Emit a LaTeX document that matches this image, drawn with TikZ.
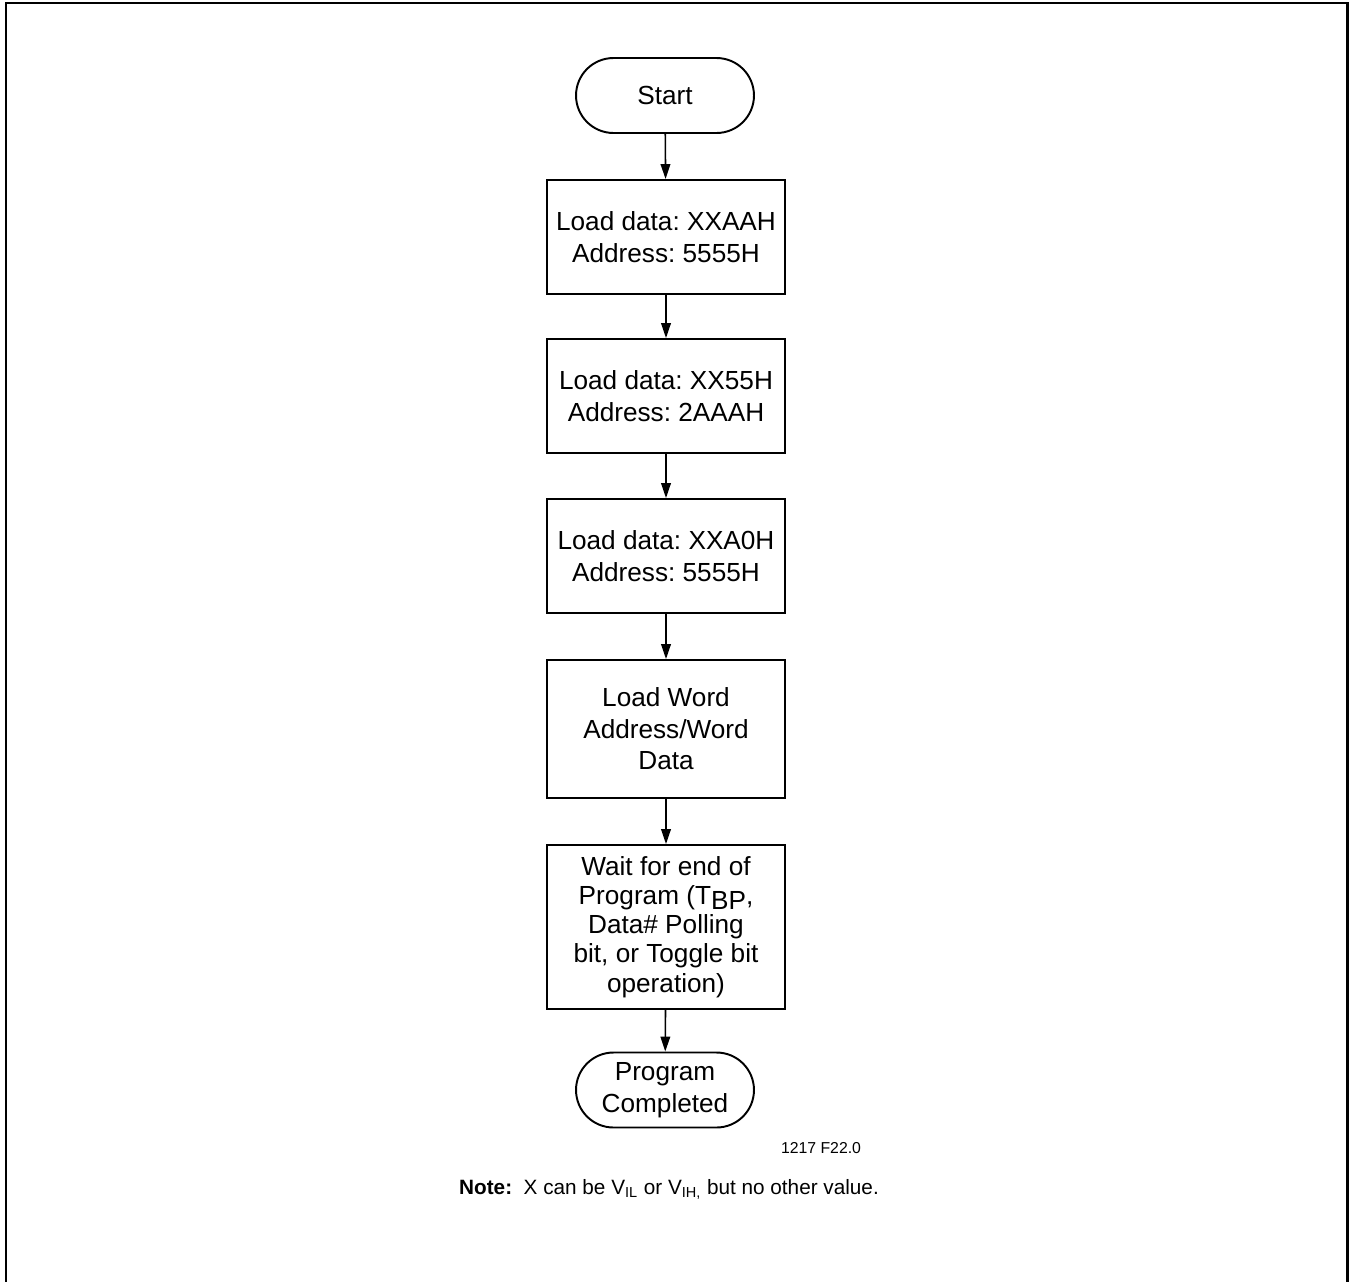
\documentclass[tikz,border=0pt]{standalone}
\usepackage{fontspec}
\setmainfont{Liberation Sans}
\usetikzlibrary{arrows.meta,shapes.misc}
\frenchspacing

\begin{document}
\begin{tikzpicture}[x=0.02cm,y=-0.02cm,
    every node/.style={font=\fontsize{14.9}{18}\selectfont},
    stepbox/.style={draw,line width=1.1pt,align=center,minimum width=4.76cm,minimum height=2.28cm,inner sep=0pt},
    terminal/.style={draw,line width=1.1pt,rounded rectangle,align=center,minimum width=3.56cm,minimum height=1.5cm,inner sep=0pt},
    flow/.style={line width=0.9pt,-{Triangle[length=8.5pt,width=5.5pt]}}]
    % Frame
    \useasboundingbox (0,0) rectangle (1350,1282);
    \draw[line width=1.7pt] (6,1282) -- (6,3) -- (1347,3) -- (1347,1282);

    % Steps
    \node[terminal] (start) at (665,95.5) {Start};
    \node[stepbox] (aah) at (666,237) {Load data: XXAAH\\Address: 5555H};
    \node[stepbox] (x55) at (666,396) {Load data: XX55H\\Address: 2AAAH};
    \node[stepbox] (xa0) at (666,556) {Load data: XXA0H\\Address: 5555H};
    \node[stepbox,minimum height=2.76cm] (word) at (666,729) {Load Word\\Address/Word\\Data};
    \node[stepbox,minimum height=3.28cm,font=\fontsize{14.9}{16.6}\selectfont] (wait) at (666,927)
        {Wait for end of\\Program (T\raisebox{-0.35ex}{BP},\\Data\# Polling\\bit, or Toggle bit\\operation)};
    \node[terminal] (done) at (665,1090) {Program\\Completed};

    % Arrows
    \draw[flow] (start) -- (aah);
    \draw[flow] (aah) -- (x55);
    \draw[flow] (x55) -- (xa0);
    \draw[flow] (xa0) -- (word);
    \draw[flow] (word) -- (wait);
    \draw[flow] (wait) -- (done);

    % Labels
    \node[font=\fontsize{9}{11}\selectfont] (fig) at (821,1148) {1217 F22.0};
    \node[font=\fontsize{11.8}{14}\selectfont] (note) at (669,1189)
        {\textbf{Note:}\ \ X can be V\textsubscript{IL} or V\textsubscript{IH,} but no other value.};
\end{tikzpicture}
\end{document}
